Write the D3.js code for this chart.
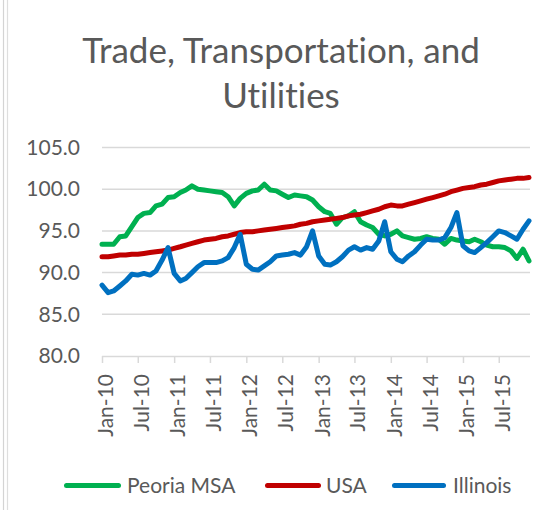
<!DOCTYPE html>
<html>
<head>
<meta charset="utf-8">
<script src="https://cdn.jsdelivr.net/npm/d3@7"></script>
<style>
  body { margin: 0; background: #fff; }
  svg { display: block; }
  text { font-family: Lato, "Open Sans", sans-serif; fill: #595959;
         font-variant-ligatures: none; font-feature-settings: "liga" 0, "clig" 0; }
</style>
</head>
<body>
<svg id="chart" width="554" height="510"></svg>
<script>
// ---------- data ----------
const titleLines = ["Trade, Transportation, and", "Utilities"];
const seriesNames = ["Peoria MSA", "USA", "Illinois"];
const seriesColors = ["#00B050", "#C00000", "#0070C0"];
const yTickValues = [80, 85, 90, 95, 100, 105];
const xTickLabels = ["Jan-10", "Jul-10", "Jan-11", "Jul-11", "Jan-12", "Jul-12",
                     "Jan-13", "Jul-13", "Jan-14", "Jul-14", "Jan-15", "Jul-15"];
// monthly categories Jan-2010 .. Dec-2015
const months = d3.timeMonth.range(new Date(2010, 0, 1), new Date(2016, 0, 1));

const peoria = [
  93.4, 93.4, 93.4, 94.3, 94.4, 95.5, 96.6, 97.1, 97.2, 98.0, 98.2, 99.0,
  99.1, 99.6, 99.9, 100.4, 100.0, 99.9, 99.8, 99.7, 99.6, 99.1, 98.0, 98.9,
  99.5, 99.8, 99.9, 100.6, 99.9, 99.8, 99.4, 99.0, 99.3, 99.2, 99.1, 98.7,
  97.9, 97.3, 97.1, 95.8, 96.6, 96.8, 97.3, 96.1, 95.7, 95.4, 94.6, 94.4,
  94.6, 95.0, 94.4, 94.2, 94.0, 94.1, 94.3, 94.1, 94.0, 93.4, 94.1, 93.9,
  93.8, 93.7, 94.0, 93.7, 93.3, 93.1, 93.1, 93.0, 92.6, 91.7, 92.8, 91.4
];
const usa = [
  91.9, 91.9, 92.0, 92.1, 92.1, 92.2, 92.2, 92.3, 92.4, 92.5, 92.6, 92.7,
  92.9, 93.1, 93.3, 93.5, 93.7, 93.9, 94.0, 94.1, 94.3, 94.4, 94.6, 94.8,
  94.9, 94.9, 95.0, 95.1, 95.2, 95.3, 95.4, 95.5, 95.6, 95.8, 95.9, 96.1,
  96.2, 96.3, 96.4, 96.5, 96.6, 96.8, 96.9, 97.0, 97.2, 97.4, 97.6, 97.9,
  98.1, 98.0, 98.0, 98.2, 98.4, 98.6, 98.8, 99.0, 99.2, 99.4, 99.7, 99.9,
  100.1, 100.2, 100.3, 100.5, 100.6, 100.8, 101.0, 101.1, 101.2, 101.3, 101.3, 101.4
];
const illinois = [
  88.5, 87.6, 87.8, 88.4, 89.0, 89.8, 89.7, 89.9, 89.7, 90.2, 91.5, 93.0,
  89.9, 89.0, 89.3, 90.0, 90.7, 91.2, 91.2, 91.2, 91.4, 91.8, 93.0, 94.6,
  91.0, 90.4, 90.3, 90.8, 91.3, 92.0, 92.1, 92.2, 92.4, 92.1, 93.1, 95.0,
  92.0, 91.0, 90.9, 91.3, 91.9, 92.7, 93.1, 92.7, 93.0, 92.8, 93.8, 96.1,
  92.5, 91.6, 91.3, 92.0, 92.5, 93.3, 94.0, 93.9, 93.9, 94.2, 95.4, 97.2,
  93.2, 92.6, 92.4, 93.0, 93.6, 94.3, 95.0, 94.8, 94.4, 94.0, 95.2, 96.2
];
const seriesValues = [peoria, usa, illinois];

// ---------- layout ----------
const svg = d3.select("#chart");
const plot = { left: 102, right: 529, top: 147.5, bottom: 356 };
const parseTick = d3.timeParse("%b-%y");
const xTickDates = xTickLabels.map(parseTick);

const x = d3.scaleTime().domain([months[0], months[months.length - 1]]).range([plot.left, plot.right]);
const y = d3.scaleLinear().domain([80, 105]).range([plot.bottom, plot.top]);

// chart border remnants on the left edge
svg.append("line").attr("x1", 3.5).attr("x2", 3.5).attr("y1", 0).attr("y2", 510)
  .attr("stroke", "#d4d4d4").attr("stroke-width", 1.2);
svg.append("line").attr("x1", 7.5).attr("x2", 7.5).attr("y1", 0).attr("y2", 510)
  .attr("stroke", "#dedede").attr("stroke-width", 1.2);

// title
svg.append("text").attr("x", 281).attr("y", 63).attr("text-anchor", "middle")
  .style("font-size", "35px").text(titleLines[0]);
svg.append("text").attr("x", 281).attr("y", 108).attr("text-anchor", "middle")
  .style("font-size", "35px").text(titleLines[1]);

// gridlines
svg.append("g").selectAll("line").data(yTickValues.filter(v => v !== 80)).join("line")
  .attr("x1", plot.left).attr("x2", plot.right + 1)
  .attr("y1", d => y(d)).attr("y2", d => y(d))
  .attr("stroke", "#d9d9d9").attr("stroke-width", 1.5);

// y axis labels
const yAxis = svg.append("g").attr("transform", `translate(${plot.left},0)`)
  .call(d3.axisLeft(y).tickValues(yTickValues).tickFormat(d3.format(".1f")).tickSize(0).tickPadding(22));
yAxis.select(".domain").remove();
yAxis.selectAll("text").style("font-size", "21px").style("font-family", "Lato, sans-serif").attr("fill", "#595959");

// x axis
const xAxis = svg.append("g").attr("transform", `translate(0,${plot.bottom})`)
  .call(d3.axisBottom(x).tickValues(xTickDates).tickSize(7).tickFormat(""));
xAxis.select(".domain").attr("stroke", "#d9d9d9").attr("stroke-width", 1.5)
  .attr("d", `M${plot.left},0.5H${plot.right + 1}`);
xAxis.selectAll(".tick line").attr("stroke", "#d9d9d9").attr("stroke-width", 1.5);

svg.append("g").selectAll("text").data(xTickDates).join("text")
  .attr("transform", d => `translate(${x(d)},374) rotate(-90)`)
  .attr("text-anchor", "end")
  .attr("dy", 11)
  .style("font-size", "21px")
  .text((d, i) => xTickLabels[i]);

// series lines
const line = d3.line().x((d, i) => x(months[i])).y(d => y(d));
seriesValues.forEach((vals, k) => {
  svg.append("path").datum(vals)
    .attr("d", line)
    .attr("fill", "none")
    .attr("stroke", seriesColors[k])
    .attr("stroke-width", 5)
    .attr("stroke-linejoin", "round")
    .attr("stroke-linecap", "round");
});

// legend
const legendY = 485.5;
const legendItems = [
  { x1: 66.5, x2: 118.5, tx: 127 },
  { x1: 267.5, x2: 318.5, tx: 326 },
  { x1: 394.5, x2: 443.5, tx: 453 }
];
legendItems.forEach((it, k) => {
  svg.append("line").attr("x1", it.x1).attr("x2", it.x2).attr("y1", legendY).attr("y2", legendY)
    .attr("stroke", seriesColors[k]).attr("stroke-width", 5).attr("stroke-linecap", "round");
  svg.append("text").attr("x", it.tx).attr("y", legendY).attr("dy", "0.36em")
    .style("font-size", "21px").text(seriesNames[k]);
});
</script>
</body>
</html>
